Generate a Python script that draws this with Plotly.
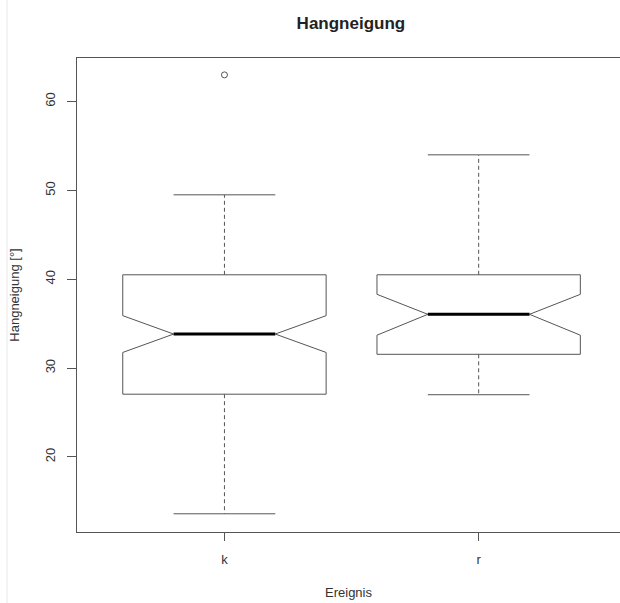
import plotly.graph_objects as go

# ---- data ----
categories = ["k", "r"]
lower_whisker = [13.6, 27.0]
q1 = [27.06, 31.55]
notch_low = [31.76, 33.7]
median = [33.83, 36.05]
notch_high = [35.9, 38.3]
q3 = [40.5, 40.5]
upper_whisker = [49.5, 54.0]
outliers = {"k": [63.0], "r": []}

y_ticks = [20, 30, 40, 50, 60]

LINE = "#555555"
FONT = "Liberation Sans, Arial, sans-serif"
HALF = 0.4  # half box width in category units (R default width 0.8)

fig = go.Figure()

for i, cat in enumerate(categories):
    c = i + 1
    w = HALF
    # notched box outline
    bx = [c - w, c - w, c - w / 2, c - w, c - w, c + w, c + w, c + w / 2, c + w, c + w, c - w]
    by = [q1[i], notch_low[i], median[i], notch_high[i], q3[i], q3[i],
          notch_high[i], median[i], notch_low[i], q1[i], q1[i]]
    fig.add_trace(go.Scatter(x=bx, y=by, mode="lines", line=dict(color=LINE, width=1),
                             fill="toself", fillcolor="white", hoverinfo="skip", showlegend=False))
    # median
    fig.add_trace(go.Scatter(x=[c - w / 2, c + w / 2], y=[median[i], median[i]], mode="lines",
                             line=dict(color="black", width=3), showlegend=False, hoverinfo="skip"))
    # whiskers (dashed)
    fig.add_trace(go.Scatter(x=[c, c, None, c, c], y=[q3[i], upper_whisker[i], None, q1[i], lower_whisker[i]],
                             mode="lines", line=dict(color=LINE, width=1, dash="4px,3px"),
                             showlegend=False, hoverinfo="skip"))
    # caps
    fig.add_trace(go.Scatter(x=[c - w / 2, c + w / 2, None, c - w / 2, c + w / 2],
                             y=[upper_whisker[i], upper_whisker[i], None, lower_whisker[i], lower_whisker[i]],
                             mode="lines", line=dict(color=LINE, width=1),
                             showlegend=False, hoverinfo="skip"))
    # outliers
    if outliers[cat]:
        fig.add_trace(go.Scatter(x=[c] * len(outliers[cat]), y=outliers[cat], mode="markers",
                                 marker=dict(symbol="circle-open", size=6, color=LINE, line=dict(width=1)),
                                 showlegend=False))

fig.update_layout(
    width=620, height=603,
    margin=dict(l=77, r=0, t=58, b=71),
    paper_bgcolor="white", plot_bgcolor="white",
    font=dict(family=FONT, size=13, color="#333333"),
    title=dict(text="<b>Hangneigung</b>", x=0.566, xanchor="center", y=1 - 23 / 603, yanchor="middle",
               yref="container", xref="container", font=dict(size=17, color="#222222")),
    xaxis=dict(range=[0.42, 2.556], tickvals=[1, 2], ticktext=categories,
               showline=True, mirror=True, linecolor=LINE, linewidth=1,
               ticks="outside", ticklen=8, tickcolor=LINE, showgrid=False, zeroline=False,
               ticklabelstandoff=7,
               title=dict(text="Ereignis", standoff=22, font=dict(size=13))),
    yaxis=dict(range=[11.55, 64.9], tickvals=y_ticks, tickangle=-90,
               showline=True, mirror=False, linecolor=LINE, linewidth=1,
               ticks="outside", ticklen=9, tickcolor=LINE, showgrid=False, zeroline=False,
               ticklabelstandoff=7,
               title=dict(text="Hangneigung [°]", standoff=20, font=dict(size=13))),
    shapes=[dict(type="line", xref="paper", yref="paper", x0=(7 - 77) / 543, x1=(7 - 77) / 543,
                 y0=-0.2, y1=1.2, line=dict(color="#e8e8e8", width=1))],
)

fig.write_html("out.html")
